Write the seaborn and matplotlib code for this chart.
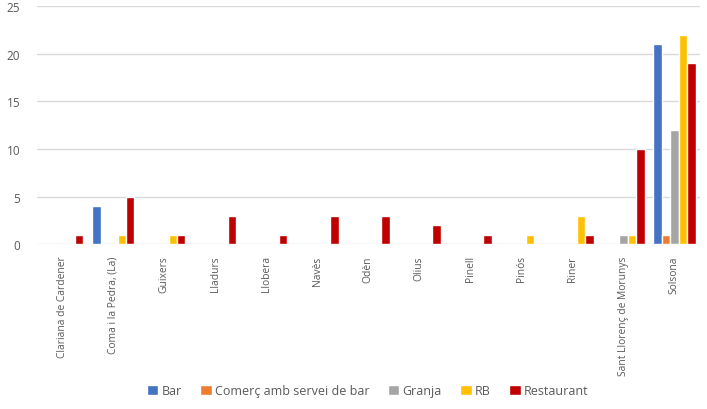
import pandas as pd
import matplotlib.pyplot as plt
import seaborn as sns

municipis = ["Clariana de Cardener", "Coma i la Pedra, (La)", "Guixers", "Lladurs",
             "Llobera", "Navès", "Odèn", "Olius", "Pinell", "Pinós", "Riner",
             "Sant Llorenç de Morunys", "Solsona"]
series = ["Bar", "Comerç amb servei de bar", "Granja", "RB", "Restaurant"]

bar = [0, 4, 0, 0, 0, 0, 0, 0, 0, 0, 0, 0, 21]
comerc = [0, 0, 0, 0, 0, 0, 0, 0, 0, 0, 0, 0, 1]
granja = [0, 0, 0, 0, 0, 0, 0, 0, 0, 0, 0, 1, 12]
rb = [0, 1, 1, 0, 0, 0, 0, 0, 0, 1, 3, 1, 22]
restaurant = [1, 5, 1, 3, 1, 3, 3, 2, 1, 0, 1, 10, 19]

colors = ["#4472C4", "#ED7D31", "#A5A5A5", "#FFC000", "#C00000"]

df = pd.DataFrame({"Municipi": municipis, "Bar": bar, "Comerç amb servei de bar": comerc,
                   "Granja": granja, "RB": rb, "Restaurant": restaurant})
long = df.melt(id_vars="Municipi", var_name="Tipus", value_name="N")

sns.set_style("white")
plt.rcParams["font.family"] = ["Open Sans", "DejaVu Sans"]

fig = plt.figure(figsize=(7.07, 4.10), dpi=100)
ax = fig.add_axes([0.052, 0.402, 0.938, 0.581])

sns.barplot(data=long, x="Municipi", y="N", hue="Tipus", hue_order=series,
            palette=colors, width=0.83, saturation=1, ax=ax, legend=True)

ax.set_ylim(0, 25)
ax.set_yticks(range(0, 26, 5))
ax.set_xlim(-0.5, len(municipis) - 0.5)
ax.yaxis.grid(True, color="#d9d9d9", linewidth=1)
ax.set_axisbelow(True)
for s in ax.spines.values():
    s.set_visible(False)
ax.set_xlabel("")
ax.set_ylabel("")
ax.tick_params(axis="y", labelsize=8.5, labelcolor="#595959", length=0, pad=12)
ax.tick_params(axis="x", labelsize=7.4, labelcolor="#595959", length=0, pad=8)
plt.setp(ax.get_xticklabels(), rotation=90)

handles, labels = ax.get_legend_handles_labels()
ax.get_legend().remove()
fig.legend(handles, labels, loc="center", bbox_to_anchor=(0.52, 0.044), ncol=5,
           frameon=False, fontsize=9, handlelength=0.9, handleheight=0.9,
           handletextpad=0.25, columnspacing=1.5, labelcolor="#595959")

fig.savefig("out.png", dpi=100)
